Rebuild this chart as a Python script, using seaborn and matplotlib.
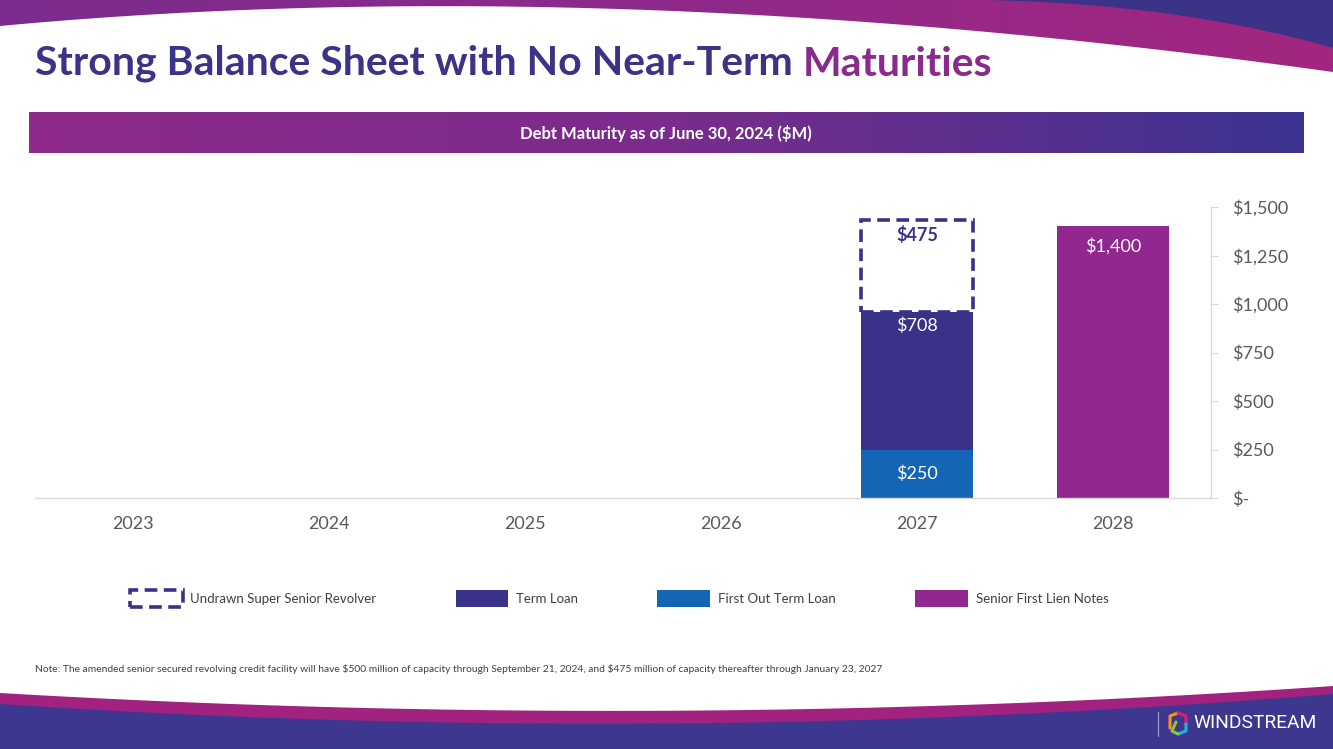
import numpy as np
import pandas as pd
import matplotlib
matplotlib.use("Agg")
import matplotlib.pyplot as plt
import seaborn as sns
from matplotlib.patches import Patch, Polygon
from matplotlib.colors import LinearSegmentedColormap
from matplotlib.ticker import FuncFormatter

# ---- data ($M) ----
YEARS        = ["2023", "2024", "2025", "2026", "2027", "2028"]
FIRST_OUT    = [0, 0, 0, 0, 250, 0]
TERM_LOAN    = [0, 0, 0, 0, 708, 0]
REVOLVER     = [0, 0, 0, 0, 475, 0]      # undrawn, shown dashed
SENIOR_NOTES = [0, 0, 0, 0, 0, 1400]
Y_TICKS      = [0, 250, 500, 750, 1000, 1250, 1500]

LEGEND_LABELS = ["Undrawn Super Senior Revolver", "Term Loan",
                 "First Out Term Loan", "Senior First Lien Notes"]

TITLE_A = "Strong Balance Sheet with No Near-Term "
TITLE_B = "Maturities"
BANNER  = "Debt Maturity as of June 30, 2024 ($M)"
NOTE    = ("Note: The amended senior secured revolving credit facility will have $500 million of capacity "
           "through September 21, 2024, and $475 million of capacity thereafter through January 23, 2027")

INDIGO  = "#3A3188"
BLUE    = "#1565B7"
MAGENTA = "#92278F"
GREY    = "#595959"

sns.set_style("white")
plt.rcParams["font.family"] = ["Lato", "DejaVu Sans"]

df = pd.DataFrame({
    "year": YEARS,
    "first_out": FIRST_OUT,
    "term_loan": TERM_LOAN,
    "revolver": REVOLVER,
    "senior": SENIOR_NOTES,
})

W, H = 1333, 749
fig = plt.figure(figsize=(W / 100, H / 100), dpi=100)

# ---- slide decoration (pixel coords) ----
bg = fig.add_axes([0, 0, 1, 1])
bg.set_xlim(0, W)
bg.set_ylim(H, 0)
bg.axis("off")


def bezier(p0, p1, p2, n=200):
    t = np.linspace(0, 1, n)[:, None]
    return (1 - t) ** 2 * np.array(p0) + 2 * (1 - t) * t * np.array(p1) + t ** 2 * np.array(p2)


# top purple swoosh with gradient
c1 = bezier((0, 26), (600, -30), (W, 72))
top_poly = Polygon(np.vstack([c1, [(W, 0), (0, 0)]]), closed=True, transform=bg.transData)
top_cmap = LinearSegmentedColormap.from_list("top", ["#7B2C8E", "#8E2A8A", "#A3267F"])
im = bg.imshow(np.linspace(0, 1, 256).reshape(1, -1), cmap=top_cmap,
               extent=[0, W, 80, 0], aspect="auto", zorder=1)
im.set_clip_path(top_poly)
c2 = bezier((985, 0), (1180, 4), (W, 48))
bg.add_patch(Polygon(np.vstack([c2, [(W, 0)]]), closed=True, color="#3B3388", lw=0, zorder=2))

# bottom swoosh
b1 = bezier((0, 693), (666, 732), (W, 686))
b2 = bezier((0, 704), (666, 748), (W, 694))
bg.add_patch(Polygon(np.vstack([b1, [(W, H), (0, H)]]), closed=True, color="#A1237F", lw=0, zorder=1))
bg.add_patch(Polygon(np.vstack([b2, [(W, H), (0, H)]]), closed=True, color="#3D3790", lw=0, zorder=2))

# logo
bg.plot([1158, 1158], [712, 736], color="#A7A3CC", lw=0.8, zorder=3)
bg.plot([1170, 1170, 1178], [728, 716, 713], color="#F7941D", lw=2.2, zorder=3, solid_capstyle="round")
bg.plot([1178, 1186, 1186], [713, 716, 724], color="#E2197A", lw=2.2, zorder=3, solid_capstyle="round")
bg.plot([1186, 1186, 1178], [724, 731, 734], color="#1CB5E0", lw=2.2, zorder=3, solid_capstyle="round")
bg.plot([1178, 1172, 1176], [734, 731, 722], color="#8DC63F", lw=2.2, zorder=3, solid_capstyle="round")
bg.text(1193, 723, "WINDSTREAM", color="white", fontsize=13.8, family=["Roboto", "DejaVu Sans"],
        va="center", ha="left", zorder=3)

# title
t1 = bg.text(35, 75, TITLE_A, color="#3A3387", fontsize=29.5, fontweight="bold", va="baseline", ha="left")
bg.annotate(TITLE_B, xy=(1, 0), xycoords=t1, va="bottom", ha="left",
            color="#8A2A8C", fontsize=29.5, fontweight="bold")

# banner with gradient
ban_cmap = LinearSegmentedColormap.from_list("ban", ["#8E2A89", "#7A2C8C", "#3C3390"])
bg.imshow(np.linspace(0, 1, 256).reshape(1, -1), cmap=ban_cmap,
          extent=[29, 1304, 153, 112], aspect="auto", zorder=1)
bg.text(666, 133, BANNER, color="white", fontsize=12, fontweight="bold", ha="center", va="center", zorder=3)

# note
bg.text(35, 669, NOTE, color="#404040", fontsize=7.35, ha="left", va="center", parse_math=False)

bg.set_xlim(0, W)
bg.set_ylim(H, 0)

# ---- chart ----
ax = fig.add_axes([35 / W, 251 / H, 1176 / W, 291 / H])
ax.set_facecolor("none")

layers = [
    ("first_out", dict(color=BLUE, linewidth=0)),
    ("term_loan", dict(color=INDIGO, linewidth=0)),
    ("revolver", dict(color=INDIGO, fill=False, linewidth=2.6, linestyle=(0, (3.5, 1.8)))),
    ("senior", dict(color=MAGENTA, linewidth=0)),
]

base = np.zeros(len(df))
label_style = {
    "first_out": dict(label_type="center", padding=0, color="white", fontsize=13),
    "term_loan": dict(label_type="edge", padding=-16, color="white", fontsize=13),
    "revolver": dict(label_type="edge", padding=-17, color=INDIGO, fontsize=13, fontweight="bold"),
    "senior": dict(label_type="edge", padding=-20, color="white", fontsize=13),
}
for col, kws in layers:
    mask = df[col] > 0
    sub = df[mask]
    sns.barplot(x=sub["year"], y=sub[col], order=YEARS, bottom=base[mask.values],
                width=0.57, saturation=1, errorbar=None, ax=ax, **kws)
    ax.bar_label(ax.containers[-1], labels=[f"${v:,}" for v in sub[col]], **label_style[col])
    base = base + df[col].values

ax.set_xlim(-0.5, 5.5)
ax.set_ylim(0, 1500)
ax.set_yticks(Y_TICKS)
ax.yaxis.set_major_formatter(FuncFormatter(lambda v, p: "$-" if v == 0 else f"${v:,.0f}"))
ax.yaxis.tick_right()
ax.set_xlabel("")
ax.set_ylabel("")
for s in ["left", "top"]:
    ax.spines[s].set_visible(False)
for s in ["right", "bottom"]:
    ax.spines[s].set_color("#D9D9D9")
    ax.spines[s].set_linewidth(1)
ax.tick_params(axis="y", right=True, length=5, color="#D9D9D9", labelsize=13, labelcolor=GREY, pad=10)
ax.tick_params(axis="x", length=0, labelsize=13, labelcolor=GREY, pad=13)

# ---- legend ----
handles = [
    Patch(facecolor="white", edgecolor=INDIGO, linestyle=(0, (3.5, 1.8)), linewidth=2.6),
    Patch(facecolor=INDIGO, edgecolor="none"),
    Patch(facecolor=BLUE, edgecolor="none"),
    Patch(facecolor=MAGENTA, edgecolor="none"),
]
fig.legend(handles, LEGEND_LABELS, ncol=4, loc="center", bbox_to_anchor=(0.4645, 0.201),
           frameon=False, handlelength=4.0, handleheight=1.7, columnspacing=6.0,
           handletextpad=0.6, fontsize=9.5, labelcolor="#404040")

fig.savefig("out.png", dpi=100)
